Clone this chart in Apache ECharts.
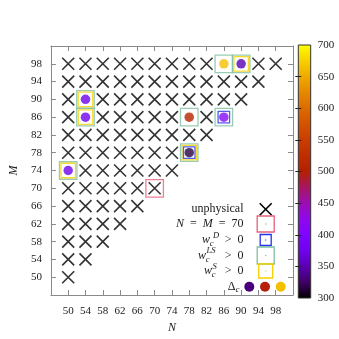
<!DOCTYPE html>
<html><head><meta charset="utf-8">
<script src="https://cdn.jsdelivr.net/npm/echarts@6/dist/echarts.min.js"></script>
<style>html,body{margin:0;padding:0;background:#fff}#c{width:339px;height:339px}</style>
</head><body><div id="c"></div>
<script>
// ---- data ----
const nTicks = [50,54,58,62,66,70,74,78,82,86,90,94,98];
const mTicks = [50,54,58,62,66,70,74,78,82,86,90,94,98];
const cbarTicks = [300,350,400,450,500,550,600,650,700];
// unphysical (N, M) cells, row by row (M)
const unphysical = [
  [50,98],[54,98],[58,98],[62,98],[66,98],[70,98],[74,98],[78,98],[82,98],[94,98],[98,98],
  [50,94],[54,94],[58,94],[62,94],[66,94],[70,94],[74,94],[78,94],[82,94],[86,94],[90,94],[94,94],
  [50,90],[58,90],[62,90],[66,90],[70,90],[74,90],[78,90],[82,90],[86,90],[90,90],
  [50,86],[58,86],[62,86],[66,86],[70,86],[74,86],[82,86],
  [50,82],[54,82],[58,82],[62,82],[66,82],[70,82],[74,82],[78,82],[82,82],
  [50,78],[54,78],[58,78],[62,78],[66,78],[70,78],[74,78],
  [54,74],[58,74],[62,74],[66,74],[70,74],[74,74],
  [50,70],[54,70],[58,70],[62,70],[66,70],[70,70],
  [50,66],[54,66],[58,66],[62,66],[66,66],
  [50,62],[54,62],[58,62],[62,62],
  [50,58],[54,58],[58,58],
  [50,54],[54,54],
  [50,50]
];
// Delta_c values (N, M, Delta_c)
const deltaC = [[86,98,665],[90,98,350],[54,90,375],[54,86,378],[78,86,505],[86,86,412],[78,78,316],[50,74,375]];
const wLS = [[86,98],[90,98],[54,90],[54,86],[78,86],[86,86],[78,78],[50,74]];
const wS  = [[90,98],[54,90],[54,86],[78,78],[50,74]];
const wD  = [[86,86],[78,78]];
const nEqM70 = [[70,70]];

// ---- style ----
const FONT = '"Liberation Serif", "DejaVu Serif", serif';
const FRAME = '#8a8a8a';
const TXT = '#1a1a1a';
const palette = ['#000000','#400062','#5a00b4','#6e02ec','#8004ff','#8f08ec','#9c0db4','#a91562',
  '#b42000','#bf2d00','#ca3e00','#d35300','#dd6c00','#e68900','#efab00','#f7d200','#ffff00'];
const GREEN = '#7fbf9f', YELLOW = '#f5d000', BLUE = '#2233ee', PINK = '#e8607a';

const chart = echarts.init(document.getElementById('c'));

function mainAxis(pos, ticks, labels, extra) {
  return Object.assign({
    type: 'value', gridIndex: 0, position: pos, min: 46, max: 102,
    axisLine: {show: true, onZero: false, lineStyle: {color: FRAME, width: 1}},
    axisTick: {show: true, inside: true, length: 5, customValues: ticks, lineStyle: {color: FRAME, width: 1}},
    axisLabel: {show: labels, customValues: ticks, fontFamily: FONT, fontSize: 11, color: TXT},
    splitLine: {show: false}
  }, extra || {});
}

const stops = palette.slice().reverse().map((c, i, a) => ({offset: i / (a.length - 1), color: c}));

function sq(data, size, color, name) {
  return {
    type: 'scatter', name, data, xAxisIndex: 0, yAxisIndex: 0,
    symbol: 'rect', symbolSize: size, silent: true,
    itemStyle: {color: 'none', borderColor: color, borderWidth: 1.3},
    z: 4
  };
}

const sub = (t, x, y, fs) => ({type: 'text', x, y, silent: true,
  style: {text: t, font: 'italic ' + (fs || 8.5) + 'px ' + FONT, fill: TXT, align: 'left', verticalAlign: 'middle'}});
const txtR = (t, x, y, style) => ({type: 'text', x, y, silent: true,
  style: {text: t, font: (style || '') + ' 12px ' + FONT, fill: TXT, align: 'right', verticalAlign: 'middle'}});
const rectG = (cx, cy, w, h, color) => ({type: 'rect', silent: true,
  shape: {x: cx - w / 2, y: cy - h / 2, width: w, height: h},
  style: {fill: 'none', stroke: color, lineWidth: 1.3}});
const dotG = (cx, cy, color) => ({type: 'rect', silent: true, shape: {x: cx - 0.6, y: cy - 0.6, width: 1.2, height: 1.2}, style: {fill: color}});

const LX = 265.7;
const option = {
  animation: false,
  backgroundColor: '#fff',
  grid: [
    {left: 39, right: 46, top: 46, bottom: 41},
    {left: 298.3, width: 12.4, top: 45, bottom: 41}
  ],
  xAxis: [
    mainAxis('bottom', nTicks, true, {axisLabel: {customValues: nTicks, fontFamily: FONT, fontSize: 11, color: TXT, margin: 11},
      name: 'N', nameLocation: 'middle', nameGap: 27, nameTextStyle: {fontFamily: FONT, fontStyle: 'italic', fontSize: 12, color: TXT}}),
    mainAxis('top', nTicks, false),
    {type: 'value', gridIndex: 1, min: 0, max: 1, show: false}
  ],
  yAxis: [
    mainAxis('left', mTicks, true, {axisLabel: {customValues: mTicks, fontFamily: FONT, fontSize: 11, color: TXT, margin: 9},
      name: 'M', nameLocation: 'middle', nameGap: 25, nameTextStyle: {fontFamily: FONT, fontStyle: 'italic', fontSize: 12, color: TXT}}),
    mainAxis('right', mTicks, false),
    {type: 'value', gridIndex: 1, position: 'right', min: 300, max: 700, interval: 50, z: 10,
      axisLine: {show: false}, splitLine: {show: false},
      axisTick: {show: true, inside: true, length: 3, customValues: cbarTicks.slice(1, -1), lineStyle: {color: '#222', width: 1}},
      axisLabel: {customValues: cbarTicks, fontFamily: FONT, fontSize: 11, color: TXT, margin: 7}},
    {type: 'value', gridIndex: 1, position: 'left', min: 300, max: 700, interval: 50, z: 10,
      axisLine: {show: false}, splitLine: {show: false}, axisLabel: {show: false},
      axisTick: {show: true, inside: true, length: 3, customValues: cbarTicks.slice(1, -1), lineStyle: {color: '#222', width: 1}}}
  ],
  visualMap: {type: 'continuous', show: false, seriesIndex: 1, dimension: 2, min: 300, max: 700,
    inRange: {color: palette}},
  series: [
    {type: 'scatter', name: 'unphysical', data: unphysical, xAxisIndex: 0, yAxisIndex: 0,
      symbol: 'path://M0 0L10 10M10 0L0 10', symbolSize: 12, silent: true,
      itemStyle: {color: 'none', borderColor: '#000', borderWidth: 1.6}, z: 3},
    {type: 'scatter', name: 'Delta_c', data: deltaC, xAxisIndex: 0, yAxisIndex: 0,
      symbol: 'circle', symbolSize: 9.5, silent: true, z: 3},
    sq(wLS, 17.5, GREEN, 'LS'),
    sq(wS, 14.5, YELLOW, 'S'),
    sq(wD, 11.5, BLUE, 'D'),
    sq(nEqM70, 17.5, PINK, 'N=M=70'),
    {type: 'custom', name: 'colorbar', xAxisIndex: 2, yAxisIndex: 2, data: [[0, 300]], silent: true, z: 2,
      renderItem: function (params, api) {
        const p0 = api.coord([0, 700]);
        const p1 = api.coord([1, 300]);
        return {type: 'rect', shape: {x: p0[0], y: p0[1], width: p1[0] - p0[0], height: p1[1] - p0[1]},
          style: {fill: new echarts.graphic.LinearGradient(0, 0, 0, 1, stops), stroke: '#333', lineWidth: 1}};
      }}
  ],
  graphic: [
    txtR('unphysical', 243.5, 208.5),
    {type: 'line', silent: true, shape: {x1: LX - 6, y1: 203.3, x2: LX + 6, y2: 215.3}, style: {stroke: '#000', lineWidth: 1.6}},
    {type: 'line', silent: true, shape: {x1: LX + 6, y1: 203.3, x2: LX - 6, y2: 215.3}, style: {stroke: '#000', lineWidth: 1.6}},
    {type: 'text', x: 243.5, y: 224, silent: true,
      style: {text: '{i|N}  =  {i|M}  =  70', font: '12px ' + FONT, fill: TXT, align: 'right', verticalAlign: 'middle',
        rich: {i: {fontStyle: 'italic', fontFamily: FONT, fontSize: 12, fill: TXT}}}},
    rectG(LX, 224, 17, 16, PINK), dotG(LX, 224, PINK),
    // w_c^D > 0
    txtR('>  0', 243.5, 240), txtR('w', 210, 240, 'italic'), sub('c', 209.8, 244), sub('D', 213, 235.5),
    rectG(LX, 240, 11, 11, BLUE), dotG(LX, 240, BLUE),
    // w_c^LS > 0
    txtR('>  0', 243.5, 255.5), txtR('w', 206, 255.5, 'italic'), sub('c', 205.8, 259.5), sub('LS', 206.5, 251),
    rectG(LX, 255.5, 17, 17, GREEN), dotG(LX, 255.5, GREEN),
    // w_c^S > 0
    txtR('>  0', 243.5, 271), txtR('w', 212, 271, 'italic'), sub('c', 211.8, 275), sub('S', 212.5, 266.5),
    rectG(LX, 271, 14, 14, YELLOW), dotG(LX, 271, YELLOW),
    // Delta_c
    txtR('Δ', 235.5, 286.5), sub('c', 235.5, 290, 9),
    {type: 'circle', silent: true, shape: {cx: 249.3, cy: 286.7, r: 5}, style: {fill: '#48007a'}},
    {type: 'circle', silent: true, shape: {cx: 265, cy: 286.7, r: 5}, style: {fill: '#b41e0a'}},
    {type: 'circle', silent: true, shape: {cx: 280.7, cy: 286.7, r: 5}, style: {fill: '#f3c000'}}
  ]
};
chart.setOption(option);
</script>
</body></html>
